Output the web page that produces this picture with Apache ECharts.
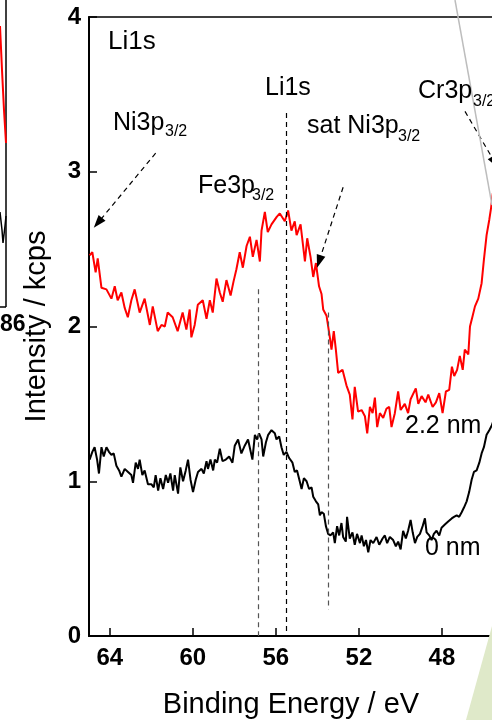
<!DOCTYPE html>
<html>
<head>
<meta charset="utf-8">
<script src="https://cdn.jsdelivr.net/npm/echarts@6/dist/echarts.min.js"></script>
<style>html,body{margin:0;padding:0;background:#fff;}#c{width:492px;height:720px;}</style>
</head>
<body>
<div id="c"></div>
<script>
// Binding energy ticks (eV), reversed axis
var xTicks = [64, 60, 56, 52, 48];
var yTicks = [0, 1, 2, 3, 4];

// 2.2 nm spectrum (red): [binding energy eV, intensity kcps]
var red22nm = [
[64.97,2.46],[64.84,2.48],[64.68,2.35],[64.58,2.44],[64.40,2.25],[64.16,2.24],[63.92,2.18],[63.76,2.26],[63.62,2.17],[63.44,2.22],
[63.28,2.12],[63.13,2.06],[62.96,2.17],[62.80,2.24],[62.56,2.09],[62.32,2.18],[62.07,2.01],[61.93,2.13],[61.69,1.97],[61.51,2.01],
[61.35,2.00],[61.21,2.09],[60.97,2.06],[60.73,1.97],[60.49,2.09],[60.31,1.98],[60.15,2.11],[60.07,1.93],[59.91,2.01],[59.76,2.14],
[59.52,2.17],[59.34,2.05],[59.18,2.17],[59.04,2.09],[58.86,2.31],[58.70,2.22],[58.56,2.16],[58.38,2.30],[58.18,2.20],[58.04,2.29],
[57.90,2.37],[57.74,2.48],[57.59,2.38],[57.41,2.52],[57.25,2.58],[57.11,2.45],[56.93,2.56],[56.77,2.42],[56.69,2.62],[56.53,2.74],
[56.39,2.61],[56.21,2.66],[55.95,2.71],[55.81,2.73],[55.57,2.68],[55.41,2.75],[55.25,2.62],[55.09,2.68],[55.00,2.59],[54.81,2.66],
[54.60,2.42],[54.49,2.57],[54.33,2.45],[54.20,2.32],[54.07,2.41],[53.92,2.26],[53.80,2.21],[53.72,2.11],[53.56,2.07],[53.40,1.93],
[53.32,1.85],[53.21,1.97],[53.11,1.85],[53.00,1.70],[52.79,1.72],[52.60,1.62],[52.44,1.56],[52.31,1.40],[52.20,1.61],[52.04,1.45],
[51.87,1.46],[51.71,1.42],[51.60,1.31],[51.47,1.48],[51.34,1.44],[51.23,1.54],[51.12,1.35],[50.99,1.44],[50.83,1.41],[50.67,1.47],
[50.54,1.48],[50.43,1.35],[50.27,1.44],[50.11,1.58],[49.99,1.46],[49.79,1.50],[49.63,1.44],[49.51,1.53],[49.26,1.60],[49.14,1.50],
[48.98,1.55],[48.79,1.51],[48.66,1.56],[48.45,1.48],[48.29,1.51],[48.13,1.57],[47.97,1.44],[47.81,1.58],[47.65,1.59],[47.52,1.74],
[47.41,1.68],[47.27,1.72],[47.14,1.81],[47.00,1.72],[46.90,1.85],[46.73,1.82],[46.65,2.00],[46.52,2.07],[46.41,2.13],[46.25,2.18],
[46.09,2.28],[45.98,2.43],[45.85,2.59],[45.72,2.69],[45.63,2.77],[45.55,2.86],[45.40,2.95]
];

// 0 nm spectrum (black)
var black0nm = [
[64.97,1.14],[64.84,1.19],[64.73,1.22],[64.61,1.14],[64.52,1.05],[64.40,1.22],[64.29,1.16],[64.16,1.22],[64.04,1.19],[63.92,1.17],
[63.81,1.18],[63.68,1.10],[63.55,1.07],[63.44,1.03],[63.28,1.08],[63.12,1.06],[62.96,1.04],[62.88,0.99],[62.75,1.12],[62.64,1.08],
[62.56,1.14],[62.43,1.04],[62.32,1.07],[62.16,0.98],[61.99,0.98],[61.88,0.96],[61.79,1.04],[61.67,0.94],[61.56,1.02],[61.43,0.95],
[61.30,1.04],[61.19,0.99],[61.08,1.05],[60.95,0.94],[60.87,1.04],[60.71,0.92],[60.60,1.09],[60.47,1.00],[60.34,1.07],[60.23,1.14],
[60.11,1.01],[59.99,0.93],[59.86,1.01],[59.75,1.06],[59.58,1.08],[59.47,1.05],[59.34,1.13],[59.27,1.08],[59.15,1.14],[59.02,1.07],
[58.94,1.14],[58.83,1.12],[58.70,1.21],[58.57,1.13],[58.41,1.14],[58.25,1.16],[58.09,1.12],[57.98,1.23],[57.82,1.27],[57.66,1.18],
[57.50,1.23],[57.34,1.27],[57.26,1.27],[57.13,1.14],[57.01,1.30],[56.90,1.27],[56.81,1.31],[56.69,1.27],[56.61,1.16],[56.48,1.25],
[56.37,1.30],[56.21,1.33],[56.05,1.31],[55.97,1.27],[55.84,1.29],[55.73,1.22],[55.62,1.17],[55.49,1.19],[55.36,1.15],[55.20,1.12],
[55.09,1.06],[54.98,1.07],[54.85,1.00],[54.76,0.95],[54.65,1.02],[54.52,1.00],[54.40,0.95],[54.28,0.96],[54.20,0.90],[54.07,0.87],
[53.96,0.85],[53.88,0.78],[53.80,0.80],[53.69,0.79],[53.59,0.71],[53.48,0.66],[53.37,0.65],[53.24,0.67],[53.16,0.60],[53.05,0.71],
[52.95,0.65],[52.84,0.73],[52.76,0.64],[52.63,0.61],[52.57,0.77],[52.44,0.63],[52.31,0.67],[52.20,0.59],[52.09,0.66],[51.95,0.60],
[51.87,0.65],[51.76,0.58],[51.66,0.62],[51.55,0.54],[51.44,0.62],[51.31,0.60],[51.15,0.64],[51.02,0.59],[50.86,0.63],[50.75,0.65],
[50.64,0.60],[50.51,0.64],[50.35,0.62],[50.22,0.58],[50.11,0.61],[49.99,0.56],[49.87,0.68],[49.74,0.63],[49.63,0.68],[49.51,0.75],
[49.41,0.67],[49.30,0.60],[49.19,0.64],[49.06,0.66],[48.93,0.71],[48.82,0.76],[48.74,0.67],[48.61,0.65],[48.50,0.62],[48.39,0.66],
[48.26,0.68],[48.13,0.65],[48.02,0.70],[47.86,0.72],[47.70,0.74],[47.53,0.76],[47.42,0.77],[47.29,0.78],[47.17,0.77],[47.05,0.80],
[46.94,0.83],[46.81,0.87],[46.69,0.93],[46.57,1.01],[46.46,1.06],[46.33,1.07],[46.20,1.12],[46.09,1.18],[45.98,1.22],[45.85,1.30],
[45.72,1.33],[45.60,1.36],[45.45,1.42]
];

// Reference peak positions (eV) and dashed line extents (kcps)
var peakLines = [
  {name: 'Li1s', energy: 55.5, from: 3.38, to: 0, color: '#000'},
  {name: 'Fe3p3/2', energy: 56.85, from: 2.24, to: 0, color: '#555'},
  {name: 'sat Ni3p3/2', energy: 53.48, from: 2.09, to: 0.17, color: '#555'}
];
// Arrows: [startE, startI, endE, endI]
var arrows = [
  [61.79, 3.12, 64.57, 2.67],
  [52.76, 2.90, 53.92, 2.42],
  [46.89, 3.39, 45.45, 3.06]
];

var FONT = '"Liberation Sans", Arial, sans-serif';

var markData = [];
peakLines.forEach(function (p) {
  markData.push([
    {coord: [p.energy, p.from], symbol: 'none', lineStyle: {color: p.color, type: [5, 4], width: 1.2}},
    {coord: [p.energy, p.to], symbol: 'none'}
  ]);
});
arrows.forEach(function (a) {
  markData.push([
    {coord: [a[0], a[1]], symbol: 'none', lineStyle: {color: '#000', type: [5, 4], width: 1.2}},
    {coord: [a[2], a[3]], symbol: 'triangle', symbolSize: [9, 13]}
  ]);
});

function txt(s, x, y, size, extra) {
  var o = {type: 'text', z: 50, style: {text: s, x: x, y: y, fontSize: size, fontFamily: FONT, fontWeight: 'normal', fill: '#000', verticalAlign: 'middle', align: 'left'}};
  if (extra) for (var k in extra) o.style[k] = extra[k];
  return o;
}

var chart = echarts.init(document.getElementById('c'), null, {renderer: 'canvas'});
chart.setOption({
  animation: false,
  backgroundColor: '#fff',
  grid: {left: 89, top: 17, width: 436, height: 619, show: true, borderColor: '#000', borderWidth: 1.5, containLabel: false, outerBoundsMode: 'none'},
  xAxis: {
    type: 'value', min: 44, max: 65, interval: 4, inverse: true,
    axisLine: {lineStyle: {color: '#000', width: 2}},
    axisTick: {inside: true, length: 8, lineStyle: {color: '#000', width: 1.5}},
    axisLabel: {color: '#000', fontSize: 24, fontWeight: 'bold', fontFamily: FONT, margin: 10, showMaxLabel: false, hideOverlap: false},
    splitLine: {show: false}
  },
  yAxis: {
    type: 'value', min: 0, max: 4, interval: 1,
    name: 'Intensity / kcps', nameLocation: 'middle', nameGap: 38,
    nameTextStyle: {color: '#000', fontSize: 29, fontFamily: FONT},
    axisLine: {show: true, lineStyle: {color: '#000', width: 2}},
    axisTick: {show: true, inside: true, length: 8, lineStyle: {color: '#000', width: 1.5}},
    axisLabel: {color: '#000', fontSize: 24, fontWeight: 'bold', fontFamily: FONT, margin: 8},
    splitLine: {show: false}
  },
  series: [
    {
      name: '0 nm', type: 'line', data: black0nm, showSymbol: false, clip: true,
      lineStyle: {color: '#000', width: 2}, z: 3,
      markLine: {silent: true, symbol: ['none', 'none'], label: {show: false}, data: markData, animation: false}
    },
    {
      name: '2.2 nm', type: 'line', data: red22nm, showSymbol: false, clip: true,
      lineStyle: {color: '#ff0000', width: 2}, z: 4
    }
  ],
  graphic: [
    // neighbouring panel fragments
    {type: 'line', z: 40, shape: {x1: 6, y1: 0, x2: 6, y2: 307}, style: {stroke: '#000', lineWidth: 1.5}},
    {type: 'line', z: 40, shape: {x1: 0, y1: 307, x2: 6, y2: 307}, style: {stroke: '#000', lineWidth: 1.5}},
    {type: 'polyline', z: 40, shape: {points: [[0, 26], [2, 70], [4, 110], [6, 143]]}, style: {stroke: '#ff0000', lineWidth: 2, fill: null}},
    {type: 'polyline', z: 40, shape: {points: [[0, 212], [2, 230], [3, 243], [5, 226], [6, 216]]}, style: {stroke: '#000', lineWidth: 1.5, fill: null}},
    txt('86', 0, 325, 23, {fontWeight: 'bold'}),
    {type: 'line', z: 45, shape: {x1: 455, y1: 0, x2: 492, y2: 205}, style: {stroke: '#bdbdbd', lineWidth: 1.5}},
    {type: 'polygon', z: 45, shape: {points: [[492, 626], [466, 720], [492, 720]]}, style: {fill: '#dfe9c9'}},
    // annotations
    txt('Li1s', 108, 42, 26),
    txt('Li1s', 265, 88, 25),
    txt('Ni3p', 113, 123, 25), txt('3/2', 165, 132, 16),
    txt('Fe3p', 198, 186, 25), txt('3/2', 252, 196, 16),
    txt('sat Ni3p', 307, 126, 25), txt('3/2', 398, 137, 16),
    txt('Cr3p', 418, 91, 25), txt('3/2', 473, 102, 16),
    txt('2.2 nm', 405, 426, 25),
    txt('0 nm', 425, 548, 25),
    txt('Binding Energy / eV', 291, 705, 29, {align: 'center'})
  ]
});
</script>
</body>
</html>
